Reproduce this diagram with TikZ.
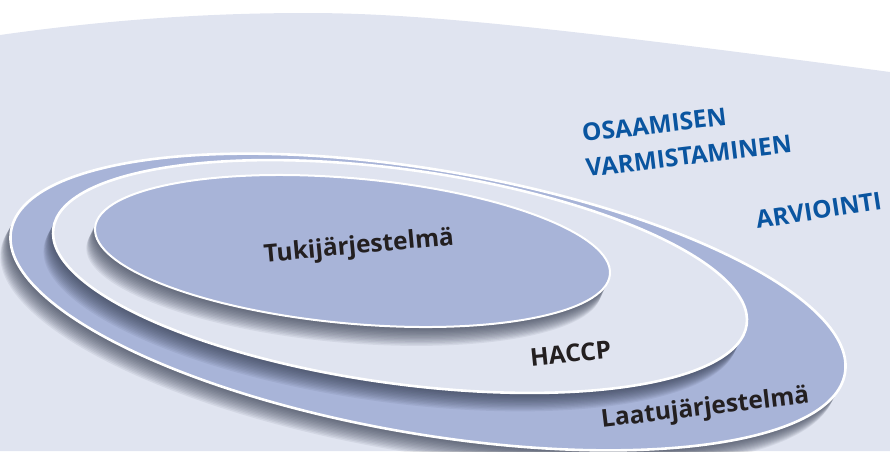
\documentclass[tikz,border=0pt]{standalone}
\usepackage{fontspec}
\setmainfont{Open Sans}
\usetikzlibrary{positioning}

\definecolor{paleback}{HTML}{E0E4F0}
\definecolor{ringblue}{HTML}{A8B4D8}
\definecolor{titleblue}{HTML}{0A55A0}
\definecolor{textdark}{HTML}{231F20}
\definecolor{shadowtone}{HTML}{2C3448}

\tikzset{
  layer/.style={draw=white, line width=2.6pt},
  dropshadow/.style={fill=shadowtone, opacity=0.075},
  ringtext/.style={font=\fontsize{24.5}{28}\selectfont\bfseries, text=textdark, inner sep=0pt},
  outertext/.style={font=\fontsize{24.5}{28}\selectfont\bfseries, text=titleblue, inner sep=0pt}
}

\begin{document}
\begin{tikzpicture}[x=1pt, y=-1pt]
  \useasboundingbox (0,0) rectangle (890,451);
  \clip (0,0) rectangle (890,451);

  % pale background
  \fill[paleback] (0,35) .. controls (120,18) and (220,13) .. (307,13)
    .. controls (420,13) and (560,28) .. (890,72) -- (890,451) -- (0,451) -- cycle;

  % Laatujarjestelma
  \begin{scope}[shift={(428,302)}, rotate=-9.7]
    \foreach \k in {1,...,14}
      \fill[dropshadow] (-0.5*\k,1.4*\k) ellipse [x radius=423, y radius=132];
    \filldraw[layer, fill=ringblue] (0,0) ellipse [x radius=423, y radius=132];
  \end{scope}

  % HACCP
  \begin{scope}[shift={(400,276.5)}, rotate=-7.9]
    \foreach \k in {1,...,14}
      \fill[dropshadow] (-0.5*\k,1.4*\k) ellipse [x radius=350, y radius=107];
    \filldraw[layer, fill=paleback] (0,0) ellipse [x radius=350, y radius=107];
  \end{scope}

  % Tukijarjestelma
  \begin{scope}[shift={(352.5,251)}, rotate=-5.2]
    \foreach \k in {1,...,14}
      \fill[dropshadow] (-0.5*\k,1.4*\k) ellipse [x radius=258.5, y radius=72.6];
    \filldraw[layer, line width=2pt, fill=ringblue] (0,0) ellipse [x radius=258.5, y radius=72.6];
  \end{scope}

  \node[ringtext, rotate=5.3, anchor=base] (tuki) at (359.5,253.5) {Tukijärjestelmä};
  \node[ringtext, rotate=5.8, anchor=base] (haccp) at (571.5,362) {HACCP};
  \node[ringtext, rotate=6.8, anchor=base] (laatu) at (706,415) {Laatujärjestelmä};

  \node[outertext, rotate=6.7, anchor=base west] (osaamisen) at (583,142) {OSAAMISEN};
  \node[outertext, rotate=6.9, anchor=base west] (varmistaminen) at (587,177) {VARMISTAMINEN};
  \node[outertext, rotate=8.8, anchor=base] (arviointi) at (820,219) {ARVIOINTI};
\end{tikzpicture}
\end{document}
